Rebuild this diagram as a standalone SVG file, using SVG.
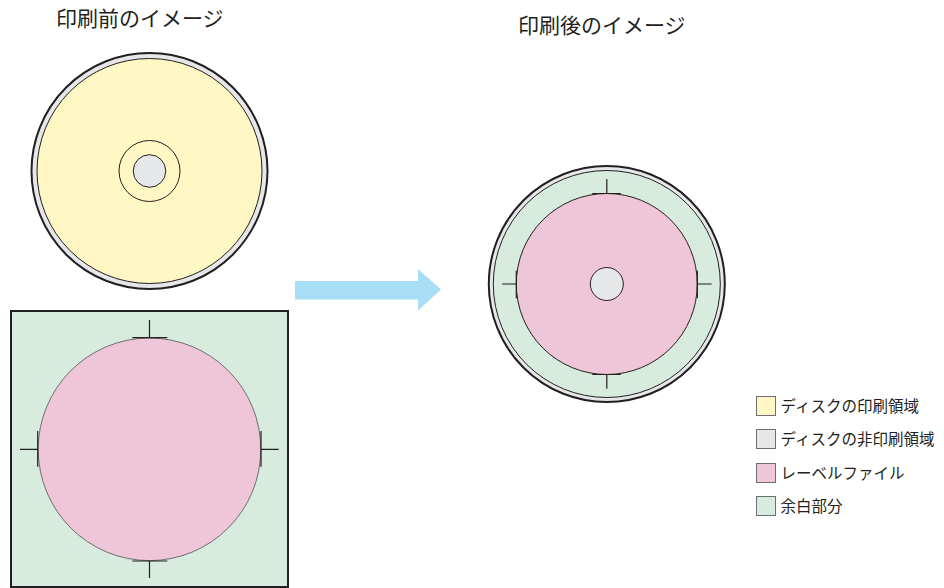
<svg xmlns="http://www.w3.org/2000/svg" width="944" height="588" viewBox="0 0 944 588">
<style>
  .t{font-family:"Noto Sans CJK JP","Noto Sans",sans-serif;fill:#231f20}
  .title{font-size:21px}
  .leg{font-size:15.5px}
  .rim{fill:#e6e7e8;stroke:#231f20;stroke-width:2}
  .thin{stroke:#231f20;stroke-width:1}
  .mark{stroke:#231f20;stroke-width:1.2;fill:none}
  .yellow{fill:#fff8c5}
  .grey{fill:#e6e7e8}
  .pink{fill:#efc6d8}
  .green{fill:#d7ebde}
  .box{stroke:#6d6e71;stroke-width:1}
</style>
<rect width="944" height="588" fill="#ffffff"/>

<g id="title-before"><text class="t title" x="56" y="25.5">印刷前のイメージ</text></g>
<g id="title-after"><text class="t title" x="518" y="32.5">印刷後のイメージ</text></g>

<g id="disc-before">
  <circle class="rim" cx="149.5" cy="171" r="118"/>
  <circle class="yellow thin" cx="149.5" cy="171" r="112.5"/>
  <circle class="thin" fill="none" cx="149.5" cy="171" r="30.5"/>
  <circle class="grey thin" cx="149.5" cy="171" r="16.3"/>
</g>

<g id="label-sheet">
  <rect class="green" x="11" y="311" width="277" height="276" stroke="#231f20" stroke-width="2"/>
  <circle class="pink" cx="149.5" cy="449.3" r="111.3" stroke="#6d6e71" stroke-width="1"/>
  <path class="mark" d="M149.5 320V337.7M132.3 337.7H167.3M20 449.3H37.7M37.7 431V466.7M261 431V466.7M261 449.3H278.7M132.3 561H167.3M149.5 561V578"/>
</g>

<g id="connectors">
  <path id="arrow" d="M295 281H418V269L441 289.5L418 310.5V299.5H295Z" fill="#a9def7"/>
</g>

<g id="disc-after">
  <circle class="rim" cx="606.8" cy="284" r="118"/>
  <circle class="green thin" cx="606.8" cy="284" r="113.5"/>
  <circle class="pink thin" cx="606.8" cy="284" r="90.5"/>
  <circle class="grey thin" cx="606.8" cy="284" r="16.5"/>
  <path class="mark" d="M606.8 179V193.5M592.3 193.5H620.7M502 284H516.3M516.3 270.7V298.3M697.3 270.7V298.3M697.3 284H711.7M592.3 374.5H620.7M606.8 374.5V388.7"/>
</g>

<g id="legend-print">
  <rect class="yellow box" x="756.5" y="396.5" width="19" height="19"/>
  <text class="t leg" x="780.5" y="411.5">ディスクの印刷領域</text>
</g>
<g id="legend-nonprint">
  <rect class="grey box" x="756.5" y="429.5" width="19" height="19"/>
  <text class="t leg" x="780.5" y="444.5">ディスクの非印刷領域</text>
</g>
<g id="legend-label">
  <rect class="pink box" x="756.5" y="463.5" width="19" height="19"/>
  <text class="t leg" x="780.5" y="478.5">レーベルファイル</text>
</g>
<g id="legend-margin">
  <rect class="green box" x="756.5" y="496.5" width="19" height="19"/>
  <text class="t leg" x="780.5" y="511.5">余白部分</text>
</g>
</svg>
